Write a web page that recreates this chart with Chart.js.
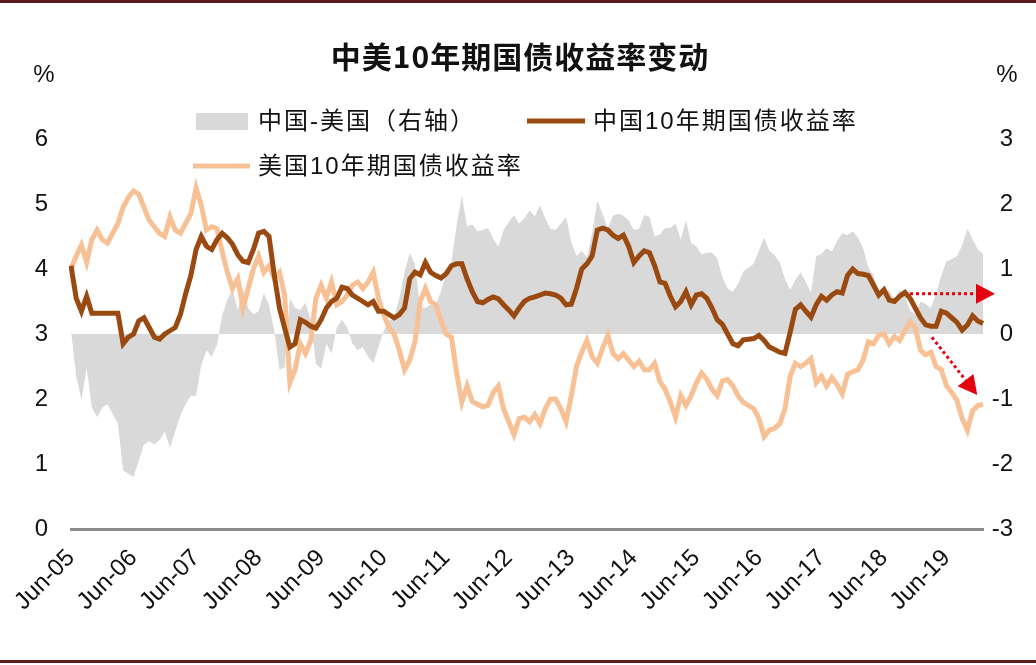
<!DOCTYPE html>
<html><head><meta charset="utf-8">
<script src="https://cdn.jsdelivr.net/npm/chart.js@4.4.1/dist/chart.umd.min.js"></script>
<style>html,body{margin:0;padding:0;background:#fff;}#wrap{width:1036px;height:665px;}</style>
</head><body><div id="wrap"><canvas id="c" width="1036" height="665"></canvas></div>
<script>
// Monthly points, Jun 2005 .. Jan 2020
const startYear = 2005, startMonth = 6, nMonths = 176;
const categories = [];
for (let i = 0; i < nMonths; i++) {
  const t = startMonth - 1 + i;
  categories.push((startYear + Math.floor(t / 12)) + '-' + String(t % 12 + 1).padStart(2, '0'));
}
const tickLabels = ['Jun-05','Jun-06','Jun-07','Jun-08','Jun-09','Jun-10','Jun-11','Jun-12','Jun-13','Jun-14','Jun-15','Jun-16','Jun-17','Jun-18','Jun-19'];

const cn10y = [
4.05,3.55,3.35,3.58,3.32,3.32,3.32,3.32,3.32,3.32,2.85,2.95,
3.00,3.20,3.25,3.10,2.95,2.92,3.00,3.05,3.10,3.30,3.62,3.90,
4.30,4.50,4.35,4.30,4.45,4.55,4.48,4.38,4.22,4.12,4.10,4.30,
4.55,4.58,4.50,3.91,3.40,3.09,2.80,2.85,3.22,3.18,3.12,3.09,
3.22,3.40,3.50,3.55,3.72,3.70,3.60,3.55,3.50,3.45,3.50,3.35,
3.35,3.30,3.25,3.30,3.40,3.85,3.95,3.91,4.10,3.95,3.90,3.86,
3.93,4.05,4.08,4.08,3.85,3.65,3.50,3.48,3.53,3.57,3.54,3.45,
3.37,3.28,3.40,3.50,3.55,3.57,3.60,3.63,3.62,3.60,3.55,3.45,
3.46,3.70,4.00,4.08,4.20,4.60,4.63,4.60,4.52,4.47,4.52,4.35,
4.10,4.20,4.28,4.25,4.05,3.80,3.78,3.58,3.42,3.50,3.65,3.45,
3.60,3.62,3.55,3.40,3.22,3.15,3.00,2.85,2.82,2.91,2.92,2.93,
2.98,2.90,2.80,2.76,2.72,2.70,3.03,3.38,3.45,3.35,3.26,3.45,
3.58,3.52,3.60,3.65,3.63,3.90,4.00,3.93,3.92,3.90,3.75,3.60,
3.68,3.52,3.50,3.58,3.64,3.55,3.40,3.25,3.14,3.12,3.12,3.35,
3.32,3.25,3.18,3.06,3.14,3.28,3.20,3.16];

const us10y = [
4.00,4.20,4.37,4.10,4.45,4.60,4.45,4.40,4.55,4.70,4.95,5.10,
5.20,5.15,4.95,4.75,4.65,4.55,4.50,4.80,4.60,4.55,4.70,4.85,
5.25,4.98,4.60,4.65,4.62,4.27,3.95,3.70,3.85,3.40,3.70,4.00,
4.20,3.95,4.05,3.86,3.95,3.60,2.25,2.45,2.85,2.70,2.90,3.55,
3.75,3.55,3.80,3.45,3.50,3.60,3.75,3.80,3.70,3.80,3.95,3.55,
3.30,3.10,3.00,2.75,2.45,2.60,2.88,3.50,3.70,3.50,3.45,3.20,
3.00,2.95,2.40,1.95,2.20,1.96,1.92,1.88,1.90,2.10,2.20,1.85,
1.65,1.45,1.70,1.72,1.65,1.76,1.62,1.85,2.00,2.00,1.85,1.65,
2.05,2.50,2.72,2.90,2.65,2.55,2.78,2.98,2.70,2.62,2.70,2.60,
2.50,2.58,2.45,2.45,2.55,2.27,2.15,1.95,1.72,2.05,1.90,2.05,
2.25,2.40,2.30,2.15,2.05,2.28,2.30,2.20,2.05,1.95,1.90,1.85,
1.70,1.42,1.52,1.55,1.62,1.85,2.35,2.55,2.50,2.55,2.62,2.25,
2.35,2.20,2.33,2.22,2.08,2.38,2.42,2.45,2.60,2.88,2.85,2.98,
3.00,2.85,2.96,2.90,3.05,3.19,3.10,2.75,2.68,2.72,2.50,2.45,
2.20,2.10,1.98,1.70,1.52,1.82,1.90,1.92];

const spreadCnUs = [
0.05,-0.65,-1.02,-0.52,-1.13,-1.28,-1.13,-1.08,-1.23,-1.38,-2.10,-2.15,
-2.20,-1.95,-1.70,-1.65,-1.70,-1.63,-1.50,-1.75,-1.50,-1.25,-1.08,-0.95,
-0.95,-0.48,-0.25,-0.35,-0.17,0.28,0.53,0.68,0.37,0.72,0.40,0.30,
0.35,0.63,0.45,0.05,-0.55,-0.51,0.55,0.40,0.37,0.48,0.22,-0.46,
-0.53,-0.15,-0.30,0.10,0.22,0.10,-0.15,-0.25,-0.20,-0.35,-0.45,-0.20,
0.05,0.20,0.25,0.55,0.95,1.25,1.07,0.41,0.40,0.45,0.45,0.66,
0.93,1.10,1.68,2.13,1.65,1.69,1.58,1.60,1.63,1.47,1.34,1.60,
1.72,1.83,1.70,1.78,1.90,1.81,1.98,1.78,1.62,1.60,1.70,1.80,
1.41,1.20,1.28,1.18,1.55,2.05,1.85,1.62,1.82,1.85,1.82,1.75,
1.60,1.62,1.83,1.80,1.50,1.53,1.63,1.63,1.70,1.45,1.75,1.40,
1.35,1.22,1.25,1.25,1.17,0.87,0.70,0.65,0.77,0.96,1.02,1.08,
1.28,1.48,1.28,1.21,1.10,0.85,0.68,0.83,0.95,0.80,0.64,1.20,
1.23,1.32,1.27,1.43,1.55,1.52,1.58,1.48,1.32,1.02,0.90,0.62,
0.68,0.67,0.54,0.68,0.59,0.36,0.30,0.50,0.46,0.40,0.62,0.90,
1.12,1.15,1.20,1.36,1.62,1.46,1.30,1.24];

// annotation arrows in data space: [index, left-axis value]
const arrowA = {from:[161, 3.62], to:[177.3, 3.62]};
const arrowB = {from:[165.2, 2.95], to:[173.9, 2.06]};

const TITLE = '中美10年期国债收益率变动';
const SER_SPREAD = '中国-美国（右轴）', SER_CN = '中国10年期国债收益率', SER_US = '美国10年期国债收益率';
const BROWN = '#9A4A10', ORANGE = '#F8C195', GRAY = '#D9D9D9', RED = '#E3000F';
const TXT = '#111';
const FONT = '"Liberation Sans", "Noto Sans CJK SC", sans-serif';

function drawArrow(c, chart, a) {
  const xs = chart.scales.x, ys = chart.scales.y;
  const x1 = xs.getPixelForValue(a.from[0]), y1 = ys.getPixelForValue(a.from[1]);
  const x2 = xs.getPixelForValue(a.to[0]), y2 = ys.getPixelForValue(a.to[1]);
  const ang = Math.atan2(y2 - y1, x2 - x1), L = 19, W = 10;
  const bx = x2 - L * Math.cos(ang), by = y2 - L * Math.sin(ang);
  c.save();
  c.strokeStyle = RED; c.lineWidth = 3; c.setLineDash([3, 3]);
  c.beginPath(); c.moveTo(x1, y1); c.lineTo(bx, by); c.stroke();
  c.setLineDash([]);
  c.fillStyle = RED; c.beginPath();
  c.moveTo(x2, y2);
  c.lineTo(bx + W * Math.sin(ang), by - W * Math.cos(ang));
  c.lineTo(bx - W * Math.sin(ang), by + W * Math.cos(ang));
  c.closePath(); c.fill();
  c.restore();
}

const decor = {
  id: 'decor',
  afterDatasetsDraw(chart) {
    const c = chart.ctx;
    drawArrow(c, chart, arrowA);
    drawArrow(c, chart, arrowB);
  },
  afterDraw(chart) {
    const c = chart.ctx;
    c.save();
    // frame lines
    c.fillStyle = '#5A1A1E';
    c.fillRect(0, 0, 1036, 3);
    c.fillRect(0, 660, 1036, 3);
    // title
    c.fillStyle = TXT; c.textBaseline = 'middle'; c.textAlign = 'center';
    c.font = 'bold 30px "Noto Sans CJK SC", sans-serif';
    c.letterSpacing = '1px';
    c.fillText(TITLE, 520, 57);
    c.letterSpacing = '0px';
    // percent labels
    c.font = '24px ' + FONT;
    c.fillText('%', 44, 75);
    c.fillText('%', 1007, 75);
    // legend
    c.textAlign = 'left';
    c.font = '24px ' + FONT;
    c.letterSpacing = '2px';
    c.fillStyle = GRAY; c.fillRect(196, 113, 52, 17);
    c.fillStyle = TXT; c.fillText(SER_SPREAD, 258, 122);
    c.strokeStyle = BROWN; c.lineWidth = 5;
    c.beginPath(); c.moveTo(527, 121); c.lineTo(585, 121); c.stroke();
    c.fillText(SER_CN, 593, 122);
    c.strokeStyle = ORANGE;
    c.beginPath(); c.moveTo(193, 166); c.lineTo(250, 166); c.stroke();
    c.fillText(SER_US, 258, 167);
    c.restore();
  }
};

new Chart(document.getElementById('c'), {
  type: 'line',
  data: {
    labels: categories,
    datasets: [
      {label: SER_CN, data: cn10y, yAxisID: 'y', borderColor: BROWN, borderWidth: 5, pointRadius: 0, tension: 0, order: 1, fill: false},
      {label: SER_US, data: us10y, yAxisID: 'y', borderColor: ORANGE, borderWidth: 5, pointRadius: 0, tension: 0, order: 2, fill: false},
      {label: SER_SPREAD, data: spreadCnUs, yAxisID: 'y1', borderWidth: 0, borderColor: 'rgba(0,0,0,0)', backgroundColor: GRAY, fill: 'origin', pointRadius: 0, tension: 0, order: 3}
    ]
  },
  options: {
    responsive: false, animation: false, devicePixelRatio: 1,
    layout: {padding: {top: 139, right: 23, bottom: 0, left: 0}},
    plugins: {legend: {display: false}, title: {display: false}, tooltip: {enabled: false}},
    scales: {
      x: {
        type: 'category',
        grid: {display: false, drawTicks: false},
        border: {display: true, color: '#8C8C8C', width: 3},
        ticks: {autoSkip: false, minRotation: 45, maxRotation: 45, padding: 15, color: TXT,
          font: {family: FONT, size: 24},
          callback: (v, i) => (i % 12 === 0 ? tickLabels[i / 12] : '')},
        afterFit: s => { s.height = 136; }
      },
      y: {
        position: 'left', min: 0, max: 6,
        ticks: {stepSize: 1, padding: 23, color: TXT, font: {family: FONT, size: 24}},
        grid: {display: false, drawTicks: false},
        border: {display: false},
        afterFit: s => { s.width = 71; }
      },
      y1: {
        position: 'right', min: -3, max: 3,
        ticks: {stepSize: 1, crossAlign: 'far', color: TXT, font: {family: FONT, size: 24}},
        grid: {display: false, drawTicks: false},
        border: {display: false},
        afterFit: s => { s.width = 30; }
      }
    }
  },
  plugins: [decor]
});
</script></body></html>
